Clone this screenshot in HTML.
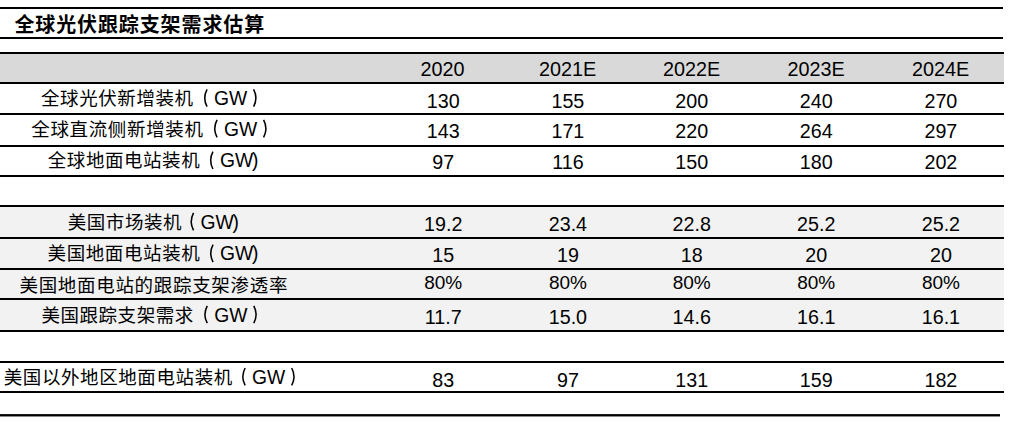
<!DOCTYPE html>
<html lang="zh"><head><meta charset="utf-8"><title>全球光伏跟踪支架需求估算</title>
<style>
html,body{margin:0;padding:0;background:#fff;}
body{width:1009px;height:423px;position:relative;overflow:hidden;font-family:"Liberation Sans",sans-serif;color:#000;}
.ln{position:absolute;}
.bd{position:absolute;left:0;}
.t{position:absolute;white-space:nowrap;line-height:1;}
.c{transform:translateX(-50%);}
.sr{position:absolute;left:0;top:0;color:transparent;font-size:1px;line-height:1px;white-space:nowrap;overflow:hidden;width:1px;height:1px;}
svg{position:absolute;left:0;top:0;}
svg text{font-family:"Liberation Sans","Noto Sans CJK SC",sans-serif;}
</style></head><body>
<div class="bd" style="top:54px;height:28px;width:1004px;background:#d9d9d9"></div>
<div class="bd" style="top:207px;height:123px;width:1004px;background:#f2f2f2"></div>
<div class="ln" style="top:7px;left:0px;width:1003px;height:2px;background:#000"></div>
<div class="ln" style="top:37px;left:0px;width:1003px;height:2px;background:#000"></div>
<div class="ln" style="top:52px;left:0px;width:1004px;height:2px;background:#000"></div>
<div class="ln" style="top:82px;left:0px;width:1004px;height:2px;background:#000"></div>
<div class="ln" style="top:113px;left:0px;width:1004px;height:2px;background:#000"></div>
<div class="ln" style="top:145px;left:0px;width:1004px;height:2px;background:#000"></div>
<div class="ln" style="top:175px;left:0px;width:1004px;height:2px;background:#000"></div>
<div class="ln" style="top:205px;left:0px;width:1004px;height:2px;background:#000"></div>
<div class="ln" style="top:237px;left:0px;width:1004px;height:2px;background:#000"></div>
<div class="ln" style="top:268px;left:0px;width:1004px;height:2px;background:#000"></div>
<div class="ln" style="top:298px;left:0px;width:1004px;height:2px;background:#000"></div>
<div class="ln" style="top:330px;left:0px;width:1004px;height:2px;background:#000"></div>
<div class="ln" style="top:361px;left:0px;width:1004px;height:2px;background:#000"></div>
<div class="ln" style="top:391px;left:0px;width:1004px;height:2px;background:#000"></div>
<div class="ln" style="top:414px;left:0px;width:1000px;height:1px;background:#1a1a1a"></div>
<div class="ln" style="top:415px;left:0px;width:1000px;height:1px;background:#000"></div>
<div class="ln" style="top:416px;left:0px;width:1000px;height:1px;background:#8a8a8a"></div>
<svg width="1009" height="423" viewBox="0 0 1009 423" role="img" aria-label="全球光伏跟踪支架需求估算"><g fill="#000">
<text x="41.02" y="105.10" font-size="18.5" letter-spacing="0.58">全球光伏新增装机</text>
<text x="31.32" y="135.70" font-size="18.5" letter-spacing="0.64">全球直流侧新增装机</text>
<text x="47.82" y="167.40" font-size="18.5" letter-spacing="0.55">全球地面电站装机</text>
<text x="67.74" y="228.75" font-size="18.5" letter-spacing="0.55">美国市场装机</text>
<text x="47.54" y="260.45" font-size="18.5" letter-spacing="0.61">美国地面电站装机</text>
<text x="19.44" y="291.55" font-size="18.5" letter-spacing="0.69">美国地面电站的跟踪支架渗透率</text>
<text x="41.44" y="321.60" font-size="18.5" letter-spacing="0.54">美国跟踪支架需求</text>
<text x="3.74" y="383.80" font-size="18.5" letter-spacing="0.59">美国以外地区地面电站装机</text>
</g><g fill="#000">
<text x="14.38" y="31.70" font-size="20" font-weight="bold" letter-spacing="0.89">全球光伏跟踪支架需求估算</text>
</g><g fill="none" stroke="#000" stroke-width="1.55" stroke-linecap="butt">
<path d="M207.05 89.30Q202.45 98.00 207.05 106.70"/>
<path d="M253.60 89.30Q258.20 98.00 253.60 106.70"/>
<path d="M217.05 119.90Q212.45 128.60 217.05 137.30"/>
<path d="M263.60 119.90Q268.20 128.60 263.60 137.30"/>
<path d="M212.95 151.60Q208.35 160.30 212.95 169.00"/>
<path d="M193.55 212.95Q188.95 221.65 193.55 230.35"/>
<path d="M213.05 244.65Q208.45 253.35 213.05 262.05"/>
<path d="M207.25 305.80Q202.65 314.50 207.25 323.20"/>
<path d="M253.80 305.80Q258.40 314.50 253.80 323.20"/>
<path d="M245.15 368.00Q240.55 376.70 245.15 385.40"/>
<path d="M291.70 368.00Q296.30 376.70 291.70 385.40"/>
</g></svg>
<div class="t" style="left:214.00px;top:89.11px;font-size:19.3px">GW</div>
<div class="t" style="left:224.00px;top:119.71px;font-size:19.3px">GW</div>
<div class="t" style="left:219.90px;top:151.41px;font-size:19.3px">GW<span style="margin-left:-1.1px">)</span></div>
<div class="t" style="left:200.50px;top:212.76px;font-size:19.3px">GW<span style="margin-left:-1.1px">)</span></div>
<div class="t" style="left:220.00px;top:244.46px;font-size:19.3px">GW<span style="margin-left:-1.1px">)</span></div>
<div class="t" style="left:214.20px;top:305.61px;font-size:19.3px">GW</div>
<div class="t" style="left:252.10px;top:367.81px;font-size:19.3px">GW</div>
<div class="t c" style="left:442.6px;top:59.84px;font-size:19.8px">2020</div>
<div class="t c" style="left:567.7px;top:59.84px;font-size:19.8px">2021E</div>
<div class="t c" style="left:691.6px;top:59.84px;font-size:19.8px">2022E</div>
<div class="t c" style="left:816.1px;top:59.84px;font-size:19.8px">2023E</div>
<div class="t c" style="left:940.6px;top:59.84px;font-size:19.8px">2024E</div>
<div class="t c" style="left:443.2px;top:92px;font-size:19.7px">130</div>
<div class="t c" style="left:567.9px;top:92px;font-size:19.7px">155</div>
<div class="t c" style="left:691.7px;top:92px;font-size:19.7px">200</div>
<div class="t c" style="left:816.2px;top:92px;font-size:19.7px">240</div>
<div class="t c" style="left:940.9px;top:92px;font-size:19.7px">270</div>
<div class="t c" style="left:443.2px;top:122px;font-size:19.7px">143</div>
<div class="t c" style="left:567.9px;top:122px;font-size:19.7px">171</div>
<div class="t c" style="left:691.7px;top:122px;font-size:19.7px">220</div>
<div class="t c" style="left:816.2px;top:122px;font-size:19.7px">264</div>
<div class="t c" style="left:940.9px;top:122px;font-size:19.7px">297</div>
<div class="t c" style="left:443.2px;top:153px;font-size:19.7px">97</div>
<div class="t c" style="left:567.9px;top:153px;font-size:19.7px">116</div>
<div class="t c" style="left:691.7px;top:153px;font-size:19.7px">150</div>
<div class="t c" style="left:816.2px;top:153px;font-size:19.7px">180</div>
<div class="t c" style="left:940.9px;top:153px;font-size:19.7px">202</div>
<div class="t c" style="left:443.2px;top:215px;font-size:19.7px">19.2</div>
<div class="t c" style="left:567.9px;top:215px;font-size:19.7px">23.4</div>
<div class="t c" style="left:691.7px;top:215px;font-size:19.7px">22.8</div>
<div class="t c" style="left:816.2px;top:215px;font-size:19.7px">25.2</div>
<div class="t c" style="left:940.9px;top:215px;font-size:19.7px">25.2</div>
<div class="t c" style="left:443.2px;top:246px;font-size:19.7px">15</div>
<div class="t c" style="left:567.9px;top:246px;font-size:19.7px">19</div>
<div class="t c" style="left:691.7px;top:246px;font-size:19.7px">18</div>
<div class="t c" style="left:816.2px;top:246px;font-size:19.7px">20</div>
<div class="t c" style="left:940.9px;top:246px;font-size:19.7px">20</div>
<div class="t c" style="left:443.2px;top:273px;font-size:19.0px">80%</div>
<div class="t c" style="left:567.9px;top:273px;font-size:19.0px">80%</div>
<div class="t c" style="left:691.7px;top:273px;font-size:19.0px">80%</div>
<div class="t c" style="left:816.2px;top:273px;font-size:19.0px">80%</div>
<div class="t c" style="left:940.9px;top:273px;font-size:19.0px">80%</div>
<div class="t c" style="left:443.2px;top:308px;font-size:19.7px">11.7</div>
<div class="t c" style="left:567.9px;top:308px;font-size:19.7px">15.0</div>
<div class="t c" style="left:691.7px;top:308px;font-size:19.7px">14.6</div>
<div class="t c" style="left:816.2px;top:308px;font-size:19.7px">16.1</div>
<div class="t c" style="left:940.9px;top:308px;font-size:19.7px">16.1</div>
<div class="t c" style="left:443.2px;top:371px;font-size:19.7px">83</div>
<div class="t c" style="left:567.9px;top:371px;font-size:19.7px">97</div>
<div class="t c" style="left:691.7px;top:371px;font-size:19.7px">131</div>
<div class="t c" style="left:816.2px;top:371px;font-size:19.7px">159</div>
<div class="t c" style="left:940.9px;top:371px;font-size:19.7px">182</div>
<div class="sr">全球光伏跟踪支架需求估算 | 全球光伏新增装机（GW） | 全球直流侧新增装机（GW） | 全球地面电站装机（GW) | 美国市场装机（GW) | 美国地面电站装机（GW) | 美国地面电站的跟踪支架渗透率 | 美国跟踪支架需求（GW） | 美国以外地区地面电站装机（GW）</div>
</body></html>
